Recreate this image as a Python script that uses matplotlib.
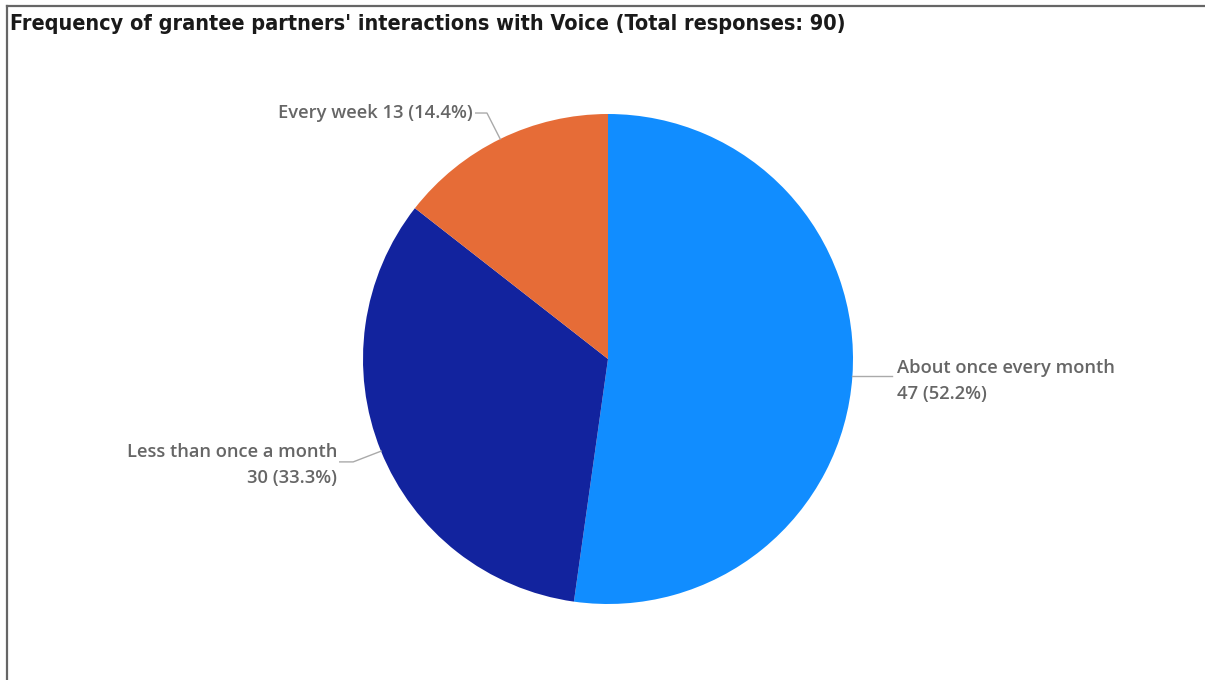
import matplotlib
matplotlib.use("Agg")
import matplotlib.pyplot as plt
from matplotlib.lines import Line2D

categories = ["About once every month", "Less than once a month", "Every week"]
counts = [47, 30, 13]
colors = ["#118DFF", "#12239E", "#E66C37"]
title = "Frequency of grantee partners' interactions with Voice (Total responses: 90)"

W, H = 1205, 680
fig = plt.figure(figsize=(W / 100, H / 100), dpi=100)
fig.patch.set_facecolor("white")

# frame lines along the top and left edges
fig.add_artist(Line2D([7 / W, 1.0], [1 - 6 / H, 1 - 6 / H], color="#666666", lw=1.6))
fig.add_artist(Line2D([7 / W, 7 / W], [0, 1 - 6 / H], color="#666666", lw=1.6))

fig.text(10 / W, 1 - 24 / H, title, fontsize=15.5, fontweight="bold",
         fontfamily="DejaVu Sans", fontstretch="condensed", color="#1a1a1a",
         va="center", ha="left")

cx, cy, r = 608, 359, 245
ax = fig.add_axes([(cx - r) / W, (H - cy - r) / H, 2 * r / W, 2 * r / H])
ax.pie(counts, colors=colors, startangle=90, counterclock=False, radius=1.0,
       wedgeprops=dict(linewidth=0))
ax.set_xlim(-1, 1)
ax.set_ylim(-1, 1)
ax.set_aspect("equal")
ax.axis("off")

total = sum(counts)
lbl_kw = dict(fontsize=13.2, fontweight="semibold", fontstretch="normal",
              fontfamily="Open Sans", color="#666666", clip_on=False)
lead_kw = dict(color="#aaaaaa", lw=1, clip_on=False)

# About once every month
ax.plot([0.9976, 1.16], [-0.07, -0.07], **lead_kw)
ax.text(1.18, -0.09, f"{categories[0]}\n{counts[0]} ({counts[0] / total * 100:.1f}%)",
        ha="left", va="center", linespacing=1.55, **lbl_kw)

# Less than once a month
ax.plot([-0.926, -1.04, -1.095], [-0.376, -0.42, -0.42], **lead_kw)
ax.text(-1.105, -0.433, f"{categories[1]}\n{counts[1]} ({counts[1] / total * 100:.1f}%)",
        ha="right", va="center", linespacing=1.55, multialignment="right", **lbl_kw)

# Every week
ax.plot([-0.44, -0.494, -0.54], [0.898, 1.004, 1.004], **lead_kw)
ax.text(-0.552, 1.004, f"{categories[2]} {counts[2]} ({counts[2] / total * 100:.1f}%)",
        ha="right", va="center", **lbl_kw)

fig.savefig("out.png", dpi=100, facecolor="white")
